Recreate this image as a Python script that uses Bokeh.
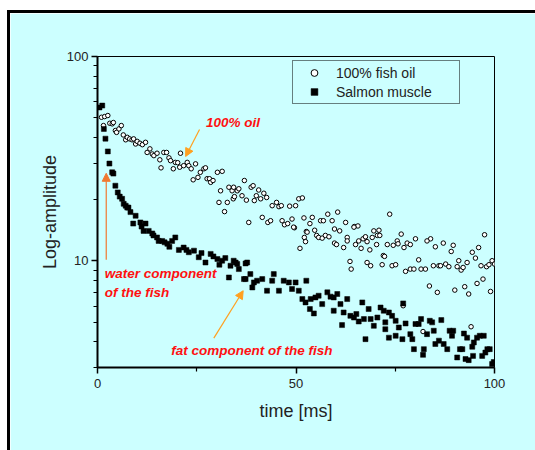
from bokeh.plotting import figure
from bokeh.models import (Range1d, FixedTicker, NumeralTickFormatter, Legend, LegendItem,
                          Label, Arrow, NormalHead)
from bokeh.embed import file_html
from bokeh.resources import INLINE

# ---- data ----
oil_t = [1.0, 1.8, 2.6, 1.5, 3.1, 3.7, 4.0, 4.5, 4.8, 5.4, 6.0, 6.5, 7.1, 7.5, 8.1, 8.7, 9.1, 9.6,
         10.0, 10.7, 11.3, 12.1, 12.5, 13.2, 13.8, 14.2, 15.0, 15.7, 16.0, 16.7, 17.4, 18.0, 18.4,
         19.1, 19.6, 20.2, 20.9, 20.7, 21.7, 22.6, 23.0, 23.6, 24.1, 24.7, 25.3, 25.9, 26.8, 27.2,
         27.6, 28.2, 28.5, 29.1, 30.2, 31.4, 30.6, 33.1, 33.9, 31.0, 32.0, 32.7, 34.2, 35.2, 34.3,
         34.5, 35.6, 36.4, 37.0, 37.5, 38.7, 39.2, 40.0, 40.6, 39.5, 41.1, 41.9, 42.6, 44.0, 45.1,
         45.7, 46.3, 48.4, 49.9, 50.7, 51.6, 38.1, 41.5, 42.9, 43.6, 46.5, 47.1, 47.9, 49.0, 49.6,
         52.0, 53.5, 54.1, 52.6, 54.7, 56.2, 56.9, 58.0, 59.1, 60.5, 59.7, 61.0, 62.5, 62.9, 64.7,
         65.6, 66.9, 69.6, 70.9, 70.5, 73.6, 76.5, 80.1, 83.9, 97.5, 49.4, 52.8, 55.2, 55.7, 56.6,
         57.4, 58.3, 64.6, 51.0, 52.1, 52.4, 59.7, 60.2, 62.0, 62.9, 65.0, 65.8, 66.4, 67.5, 67.9,
         68.6, 69.2, 70.3, 71.1, 72.0, 72.3, 71.7, 73.0, 74.5, 75.5, 75.7, 77.2, 78.0, 78.8, 63.6,
         63.9, 67.9, 68.8, 74.2, 75.1, 77.6, 78.8, 79.7, 80.9, 81.5, 82.6, 83.0, 85.1, 84.6, 86.0,
         86.4, 87.1, 87.7, 88.5, 89.6, 89.1, 91.0, 90.6, 91.6, 92.1, 93.1, 94.4, 95.2, 96.0, 96.6,
         98.0, 98.6, 99.4, 100.0, 83.6, 85.6, 90.0, 92.5, 93.5, 95.6, 97.1, 99.0, 94.1, 82.0, 77.0]
oil_v = [50.4, 50.8, 51.4, 45.9, 47.1, 46.8, 47.5, 43.4, 42.5, 44.2, 45.9, 41.3, 39.1, 40.2, 39.5,
         39.1, 39.5, 37.3, 38.4, 37.6, 37.0, 38.0, 33.9, 35.3, 33.3, 32.7, 33.6, 31.2, 28.5, 33.9,
         33.9, 31.9, 30.9, 28.2, 30.3, 30.2, 33.6, 28.7, 29.2, 30.3, 29.2, 28.2, 24.9, 29.8, 25.6,
         27.1, 28.2, 28.5, 25.2, 25.2, 24.2, 24.7, 27.1, 27.4, 19.3, 22.9, 22.0, 22.0, 17.4, 19.3,
         20.1, 22.0, 22.9, 20.6, 22.5, 20.8, 24.7, 19.8, 22.9, 23.3, 20.8, 22.2, 19.7, 20.1, 21.4,
         20.4, 18.6, 19.3, 18.4, 18.6, 18.5, 18.6, 20.1, 20.3, 15.4, 16.3, 15.4, 15.7, 15.7, 15.0,
         15.2, 16.0, 14.5, 16.2, 15.2, 16.3, 13.9, 14.1, 15.7, 15.7, 16.9, 15.7, 17.3, 14.3, 14.0,
         15.4, 13.0, 14.7, 14.8, 12.8, 14.0, 14.1, 13.3, 16.9, 13.5, 12.8, 12.8, 13.4, 14.6, 13.8,
         13.3, 13.0, 12.9, 13.3, 13.1, 14.6, 11.5, 13.0, 12.4, 12.2, 12.0, 11.6, 12.5, 12.0, 12.5,
         11.5, 13.1, 12.4, 11.3, 13.0, 12.0, 13.3, 10.6, 10.5, 9.56, 12.0, 11.9, 12.5, 12.1, 11.6,
         12.2, 12.0, 9.92, 9.1, 9.8, 9.45, 9.45, 9.56, 8.87, 9.1, 9.1, 10.1, 9.1, 9.1, 12.5, 11.7,
         9.45, 9.45, 9.45, 12.2, 9.63, 9.35, 11.9, 11.1, 10.0, 9.35, 9.0, 9.27, 9.8, 11.0, 10.3,
         11.6, 9.45, 9.35, 9.56, 10.0, 9.63, 7.52, 7.0, 7.18, 7.46, 6.87, 7.74, 8.13, 7.07, 4.75,
         4.5, 6.02]

salmon_t = [0.5, 1.2, 1.6, 2.0, 2.6, 3.0, 3.7, 4.0, 4.5, 5.1, 5.6, 6.2, 6.6, 7.1, 7.5, 7.8, 8.3,
            9.0, 9.6, 10.8, 11.1, 11.6, 12.1, 12.9, 13.8, 14.1, 15.0, 15.4, 16.3, 16.9, 17.6, 18.1,
            18.8, 19.6, 20.5, 21.7, 22.4, 23.0, 24.3, 25.5, 26.2, 27.2, 28.5, 29.2, 30.2, 30.7,
            31.4, 32.2, 33.1, 33.5, 34.8, 35.6, 36.9, 37.7, 34.3, 35.2, 37.3, 38.5, 37.3, 39.4,
            40.2, 41.5, 39.0, 42.7, 44.4, 44.0, 45.7, 46.9, 48.2, 49.0, 49.9, 50.7, 52.6, 51.6,
            52.4, 53.7, 54.9, 55.7, 53.5, 54.5, 56.6, 57.9, 58.7, 59.5, 60.4, 59.5, 61.2, 62.0,
            62.9, 61.6, 63.7, 64.6, 65.2, 65.8, 66.7, 67.1, 68.3, 68.8, 69.6, 67.5, 70.5, 71.3,
            72.1, 72.5, 73.4, 74.2, 75.1, 75.9, 72.5, 73.4, 75.1, 76.8, 77.0, 77.6, 78.8, 79.3,
            79.7, 80.1, 80.9, 81.5, 82.2, 82.0, 83.0, 83.7, 84.3, 84.7, 85.1, 86.0, 86.6, 87.2,
            88.1, 88.7, 89.6, 89.3, 90.6, 91.3, 91.9, 92.3, 93.1, 92.7, 93.5, 94.4, 94.8, 95.6,
            96.3, 97.3, 97.7, 98.2, 98.8, 94.6, 96.9, 99.4, 99.8]
salmon_v = [56.3, 57.5, 44.2, 39.6, 34.3, 29.9, 27.1, 26.7, 23.3, 21.6, 20.6, 20.1, 19.0, 18.6,
            18.2, 18.2, 17.3, 15.2, 16.6, 15.4, 14.7, 14.0, 15.2, 14.0, 13.6, 13.3, 13.0, 12.5,
            12.5, 12.3, 12.1, 11.7, 12.5, 13.0, 11.3, 11.6, 11.3, 11.0, 11.2, 10.4, 10.9, 9.8,
            10.8, 10.5, 10.2, 9.56, 10.0, 10.3, 8.28, 9.45, 9.8, 9.1, 8.13, 9.8, 10.0, 9.63, 9.7,
            8.6, 8.13, 7.83, 7.98, 8.13, 7.4, 7.13, 8.6, 7.98, 7.13, 7.98, 7.83, 7.27, 7.83, 7.13,
            7.98, 6.49, 6.25, 6.49, 6.61, 6.74, 5.8, 5.52, 6.13, 7.0, 6.67, 6.61, 6.87, 5.69, 6.13,
            5.58, 6.49, 4.84, 5.37, 5.27, 5.48, 5.04, 6.25, 5.18, 5.8, 5.18, 4.8, 4.13, 5.27, 5.9,
            5.69, 4.99, 5.58, 5.37, 5.08, 4.71, 4.62, 4.2, 4.29, 4.13, 6.18, 4.93, 4.37, 4.13,
            3.69, 4.9, 4.9, 5.18, 3.69, 3.46, 4.37, 5.08, 4.99, 4.54, 3.91, 4.06, 5.12, 3.91, 3.69,
            4.54, 4.54, 4.29, 3.36, 3.69, 3.69, 4.4, 4.2, 3.3, 3.26, 3.79, 3.98, 4.2, 4.29, 4.29,
            3.55, 3.69, 3.69, 3.42, 3.42, 3.12, 3.19]

x_ticks = [0, 50, 100]
x_minor = [25, 75]
y_ticks = [10, 100]
y_minor = [3, 4, 5, 6, 7, 8, 9, 20, 30, 40, 50, 60, 70, 80, 90]

CYAN = "#CCFFFF"
FONT = "Liberation Sans"

p = figure(width=532, height=440, y_axis_type="log", output_backend="svg", toolbar_location=None,
           x_range=Range1d(0, 100), y_range=Range1d(3, 100),
           min_border_left=87, min_border_right=48, min_border_top=43, min_border_bottom=86)
p.styles = {"margin-left": "7px", "margin-top": "10px",
            "border-left": "3px solid black", "border-top": "3px solid black"}
p.background_fill_color = CYAN
p.border_fill_color = CYAN
p.grid.visible = False
p.outline_line_color = "black"
p.outline_line_width = 1

for ax in (p.xaxis[0], p.yaxis[0]):
    ax.axis_line_width = 2
    ax.major_tick_in = 0
    ax.major_tick_out = 6
    ax.minor_tick_in = 0
    ax.minor_tick_out = 4
    ax.major_tick_line_width = 1.5
    ax.minor_tick_line_width = 1.2
    ax.major_label_text_font = FONT
    ax.major_label_text_font_size = "13px"
    ax.major_label_text_color = "#222222"
    ax.axis_label_text_font = FONT
    ax.axis_label_text_font_size = "18px"
    ax.axis_label_text_font_style = "normal"
    ax.axis_label_text_color = "#222222"

p.xaxis.ticker = FixedTicker(ticks=x_ticks, minor_ticks=x_minor)
p.yaxis.ticker = FixedTicker(ticks=y_ticks, minor_ticks=y_minor)
p.yaxis.formatter = NumeralTickFormatter(format="0")
p.xaxis.major_label_standoff = 5
p.yaxis.major_label_standoff = 3
p.xaxis.axis_label = "time [ms]"
p.yaxis.axis_label = "Log-amplitude"
p.xaxis.axis_label_standoff = 10
p.yaxis.axis_label_standoff = 4

r_oil = p.scatter(oil_t, oil_v, marker="circle", size=4.5, fill_color="white",
                  line_color="black", line_width=1.0)
r_sal = p.scatter(salmon_t, salmon_v, marker="square", size=5, fill_color="black",
                  line_color="black", line_width=0.5)

legend = Legend(items=[LegendItem(label="100% fish oil", renderers=[r_oil]),
                       LegendItem(label="Salmon muscle", renderers=[r_sal])],
                location=(195, 263), orientation="vertical")
legend.padding = 3
legend.spacing = 2
legend.margin = 0
legend.glyph_width = 36
legend.glyph_height = 17
legend.label_height = 17
legend.label_width = 120
legend.label_standoff = 4
legend.label_text_font = FONT
legend.label_text_font_size = "14px"
legend.label_text_color = "#222222"
legend.border_line_color = "black"
legend.border_line_width = 1
legend.background_fill_alpha = 0
p.add_layout(legend)

RED = "#FF1010"
lab_kw = dict(text_font=FONT, text_font_size="13.5px", text_font_style="bold italic",
              text_color=RED, text_baseline="middle")
p.add_layout(Label(x=27.3, y=47.5, text="100% oil", **lab_kw))
p.add_layout(Label(x=1.8, y=8.67, text="water component", **lab_kw))
p.add_layout(Label(x=1.8, y=7.0, text="of the fish", **lab_kw))
p.add_layout(Label(x=18.6, y=3.65, text="fat component of the fish", **lab_kw))

ORANGE = "#FFA020"
p.add_layout(Arrow(x_start=25.7, y_start=43.9, x_end=22.2, y_end=32.4, line_color=ORANGE,
                   line_width=1.2, end=NormalHead(size=8, fill_color=ORANGE, line_color=ORANGE)))
p.add_layout(Arrow(x_start=2.2, y_start=10.1, x_end=2.2, y_end=26.8, line_color="#F07830",
                   line_width=1.2, end=NormalHead(size=8, fill_color="#F07830", line_color="#F07830")))
p.add_layout(Arrow(x_start=29.3, y_start=4.18, x_end=36.7, y_end=7.13, line_color=ORANGE,
                   line_width=1.2, end=NormalHead(size=8, fill_color=ORANGE, line_color=ORANGE)))

open("out.html", "w").write(file_html(p, INLINE))
